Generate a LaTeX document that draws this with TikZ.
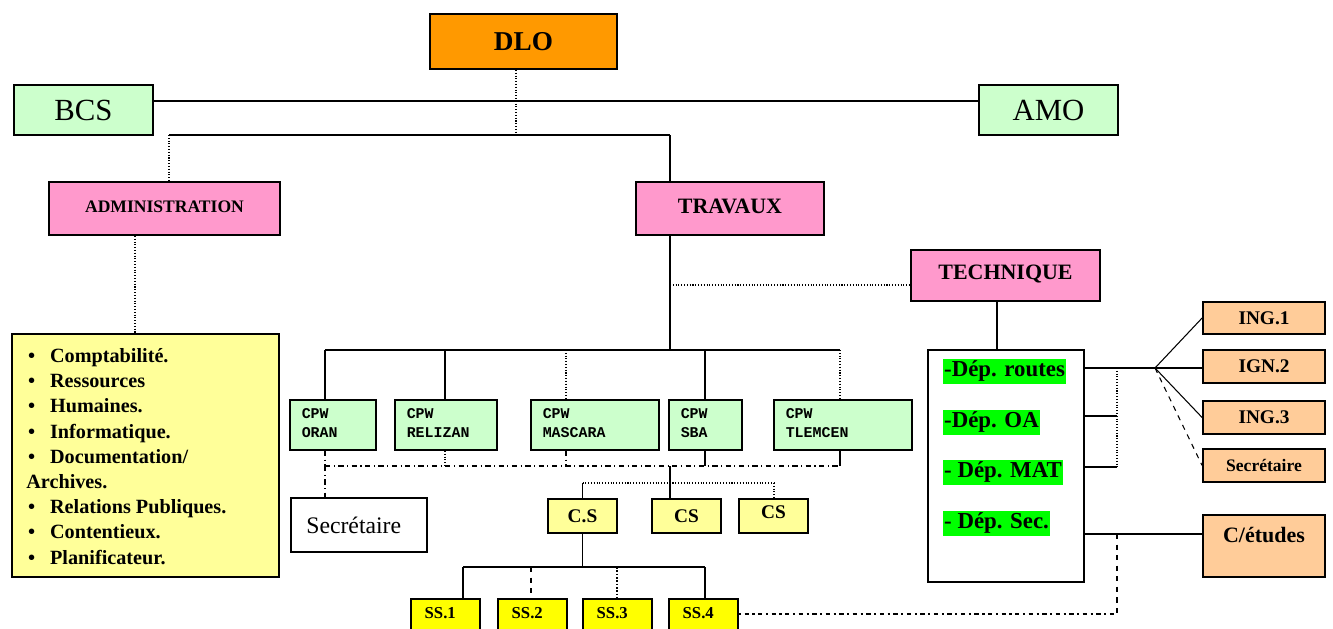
\documentclass[tikz,border=0pt]{standalone}
\usepackage{fontspec}
\setmainfont{Liberation Serif}
\setmonofont{Liberation Mono}
\usetikzlibrary{fit,positioning}

\definecolor{dloorange}{HTML}{FF9900}
\definecolor{palegreen}{HTML}{CCFFCC}
\definecolor{pinkbox}{HTML}{FF99CC}
\definecolor{paleyellow}{HTML}{FFFF99}
\definecolor{brightyellow}{HTML}{FFFF00}
\definecolor{peach}{HTML}{FFCC99}
\definecolor{depgreen}{HTML}{00FF00}

\newcommand\fsz[1]{\fontsize{#1}{#1}\selectfont}
\newcommand\itm{\hspace*{1pt}\textbullet\hspace{8.5pt}}

\tikzset{
  orgbox/.style={draw, line width=1pt, inner sep=0pt},
  boxtext/.style={inner sep=0pt},
  link/.style={line width=0.6pt},
  wavy/.style={line width=0.6pt, dash pattern=on 1.2pt off 2pt on 2.5pt off 2pt},
  cpwtext/.style={inner sep=0pt, align=left, font=\ttfamily\bfseries\fontsize{8.5}{10.8}\selectfont},
  sstext/.style={inner sep=0pt, font=\fsz{9.5}\bfseries},
  depbox/.style={fill=depgreen, inner xsep=0.5pt, inner ysep=0pt, minimum height=0.5cm, font=\fsz{13}\bfseries},
}

\begin{document}
\begin{tikzpicture}[x=0.02cm, y=-0.02cm]
  \clip (0,0) rectangle (1333,629);

  % top of the chart
  \node[orgbox, fill=dloorange, fit={(430,14) (617,69)}] (dlo) {};
  \node[boxtext, font=\fsz{15.5}\bfseries] (dlot) at (dlo) {DLO};
  \node[orgbox, fill=palegreen, fit={(14,85) (153,135)}] (bcs) {};
  \node[boxtext, font=\fsz{17.5}] (bcst) at (bcs) {BCS};
  \node[orgbox, fill=palegreen, fit={(979,85) (1118,135)}] (amo) {};
  \node[boxtext, font=\fsz{17.5}] (amot) at (amo) {AMO};
  \node[orgbox, fill=pinkbox, fit={(49,182) (280,235)}] (admin) {};
  \node[boxtext, font=\fsz{10}\bfseries] (admint) at ([yshift=1pt]admin.center) {ADMINISTRATION};
  \node[orgbox, fill=pinkbox, fit={(636,182) (824,235)}] (travaux) {};
  \node[boxtext, font=\fsz{12.5}\bfseries] (travauxt) at ([yshift=1pt]travaux.center) {TRAVAUX};
  \node[orgbox, fill=pinkbox, fit={(911,250) (1100,301)}] (technique) {};
  \node[boxtext, font=\fsz{12.5}\bfseries] (techniquet) at ([yshift=1pt]technique.center) {TECHNIQUE};

  % administration list
  \node[orgbox, fill=paleyellow, fit={(12,334) (279,577)}] (admbox) {};
  \node[anchor=north west, inner sep=0pt, align=left,
        font=\fontsize{11.5}{14.35}\selectfont\bfseries] (admlist) at (26,348)
    {\itm Comptabilité.\\
     \itm Ressources\\
     \itm Humaines.\\
     \itm Informatique.\\
     \itm Documentation/\\
     Archives.\\
     \itm Relations Publiques.\\
     \itm Contentieux.\\
     \itm Planificateur.};

  % CPW boxes
  \foreach \n/\xa/\xb/\txt in {cpworan/290/376/ORAN, cpwrelizan/395/497/RELIZAN,
      cpwmascara/531/659/MASCARA, cpwsba/669/742/SBA, cpwtlemcen/774/912/TLEMCEN} {
    \node[orgbox, fill=palegreen, fit={(\xa,400) (\xb,450)}] (\n) {};
    \node[cpwtext, below right=5pt and 7pt of \n.north west] (\n t) {CPW\\\txt};
  }
  \node[orgbox, fill=white, fit={(291,498) (427,552)}] (secr) {};
  \node[boxtext, font=\fsz{13.5}] (secrt) at ([xshift=-3pt]secr.center) {Secrétaire};

  % C.S and SS boxes
  \node[orgbox, fill=paleyellow, fit={(548,499) (617,533)}] (cs1) {};
  \node[orgbox, fill=paleyellow, fit={(652,499) (721,533)}] (cs2) {};
  \node[orgbox, fill=paleyellow, fit={(739,499) (808,533)}] (cs3) {};
  \node[boxtext, font=\fsz{11}\bfseries] (cs1t) at (cs1) {C.S};
  \node[boxtext, font=\fsz{11}\bfseries] (cs2t) at (cs2) {CS};
  \node[boxtext, font=\fsz{11}\bfseries] (cs3t) at ([yshift=2pt]cs3.center) {CS};
  \foreach \n/\xa/\xb in {1/411/480, 2/498/567, 3/583/652, 4/669/738} {
    \node[orgbox, fill=brightyellow, fit={(\xa,599) (\xb,640)}] (ss\n) {};
    \node[sstext, below=5pt of ss\n.north, xshift=-3pt] (ss\n t) {SS.\n};
  }

  % technique side
  \node[orgbox, fill=white, fit={(928,350) (1084,582)}] (techbox) {};
  \node[depbox, anchor=west] (deproutes) at (943,371) {-Dép. routes};
  \node[depbox, anchor=west] (depoa) at (943,422) {-Dép. OA};
  \node[depbox, anchor=west] (depmat) at (943,472) {- Dép. MAT};
  \node[depbox, anchor=west] (depsec) at (943,523) {- Dép. Sec.};

  \node[orgbox, fill=peach, fit={(1203,302) (1325,334)}] (ing1) {};
  \node[orgbox, fill=peach, fit={(1203,350) (1325,383)}] (ign2) {};
  \node[orgbox, fill=peach, fit={(1203,401) (1325,434)}] (ing3) {};
  \node[orgbox, fill=peach, fit={(1203,449) (1325,482)}] (secr2) {};
  \node[boxtext, font=\fsz{11}\bfseries] (ing1t) at (ing1) {ING.1};
  \node[boxtext, font=\fsz{11}\bfseries] (ign2t) at (ign2) {IGN.2};
  \node[boxtext, font=\fsz{11}\bfseries] (ing3t) at (ing3) {ING.3};
  \node[boxtext, font=\fsz{10}\bfseries] (secr2t) at (secr2) {Secrétaire};
  \node[orgbox, fill=peach, fit={(1203,515) (1325,577)}] (cetudes) {};
  \node[boxtext, below=7pt of cetudes.north, font=\fsz{12.5}\bfseries] (cetudest) {C/études};

  % links at the top
  \coordinate (hbus) at (516,101);
  \coordinate (jadm) at (169,135);
  \coordinate (jtrv) at (670,135);
  \draw[link] (bcs.east |- hbus) -- (amo.west |- hbus);
  \draw[link, densely dotted] (hbus |- dlo.south) -- (hbus |- jadm);
  \draw[link] (jadm) -- (jtrv);
  \draw[link, densely dotted] (jadm) -- (jadm |- admin.north);
  \draw[link] (jtrv) -- (jtrv |- travaux.north);
  \draw[link, densely dotted] (admin.south -| 135,0) -- (admbox.north -| 135,0);

  % travaux to the CPW
  \coordinate (cpwbus) at (670,350);
  \coordinate (jtech) at (670,285);
  \draw[link] (jtrv |- travaux.south) -- (cpwbus);
  \draw[link, densely dotted] (jtech) -- (jtech -| technique.west);
  \draw[link] (cpwbus -| 325,0) -- (cpwbus -| 840,0);
  \foreach \n/\x/\st in {cpworan/325/solid, cpwrelizan/445/solid, cpwmascara/566/densely dotted,
      cpwsba/705/solid, cpwtlemcen/840/densely dotted}
    \draw[link, \st] (cpwbus -| \x,0) -- (\n.north -| \x,0);

  \coordinate (dbus) at (670,466);
  \draw[link, dash dot] (dbus -| 325,0) -- (dbus -| 840,0);
  \foreach \n/\x/\st in {cpworan/325/dash dot, cpwrelizan/445/densely dotted, cpwmascara/566/dash dot,
      cpwsba/705/solid, cpwtlemcen/840/solid}
    \draw[link, \st] (\n.south -| \x,0) -- (dbus -| \x,0);
  \draw[link, dash dot] (dbus -| 325,0) -- (secr.north -| 325,0);

  % C.S and SS links
  \coordinate (csbus) at (670,483);
  \draw[link] (dbus) -- (dbus |- cs2.north);
  \draw[link, densely dotted] (csbus -| cs1.north) -- (csbus -| 774,0);
  \draw[link] (csbus -| cs1.north) -- (cs1.north);
  \draw[link, densely dotted] (csbus -| 774,0) -- (cs3.north -| 774,0);
  \coordinate (ssbus) at (583,567);
  \draw[line width=1pt] (cs1.south) -- (cs1.south |- ssbus);
  \draw[line width=1.1pt] (ssbus -| 463,0) -- (ssbus -| 705,0);
  \foreach \n/\x/\st in {1/463/solid, 2/531/dashed, 3/617/densely dotted, 4/705/solid}
    \draw[line width=0.9pt, \st] (ssbus -| \x,0) -- (ss\n.north -| \x,0);

  % technique links
  \coordinate (fan) at (1155,368);
  \coordinate (dv) at (1117,368);
  \coordinate (jce) at (1117,534);
  \coordinate (jwig) at (1117,614);
  \draw[link] (technique.south -| 997,0) -- (techbox.north -| 997,0);
  \draw[link] (techbox.east |- fan) -- (fan);
  \draw[link] (techbox.east |- 0,416) -- (dv |- 0,416);
  \draw[link] (techbox.east |- 0,467) -- (dv |- 0,467);
  \draw[link, densely dotted] (dv) -- (dv |- 0,467);
  \draw[link] (fan) -- (ing1.west);
  \draw[link] (fan) -- (ign2.west |- fan);
  \draw[link] (fan) -- (ing3.west);
  \draw[link, dashed] (fan) -- (secr2.west);
  \draw[link] (techbox.east |- jce) -- (cetudes.west |- jce);
  \draw[link, dashed] (jce) -- (jwig);
  \draw[wavy] (ss4.east |- jwig) -- (jwig);
\end{tikzpicture}
\end{document}
